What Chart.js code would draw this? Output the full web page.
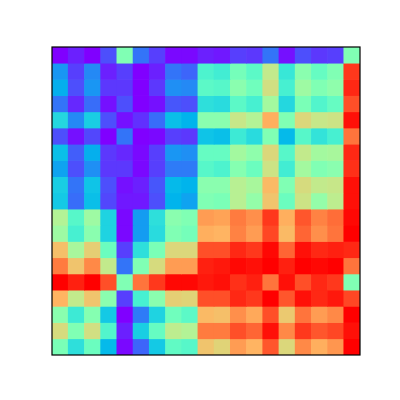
<!DOCTYPE html>
<html>
<head>
<meta charset="utf-8">
<script src="https://cdn.jsdelivr.net/npm/chart.js@4/dist/chart.umd.min.js"></script>
<style>
  html, body { margin: 0; padding: 0; background: #fff; }
  #wrap { width: 400px; height: 400px; }
</style>
</head>
<body>
<div id="wrap"><canvas id="heat" width="400" height="400"></canvas></div>
<script>
// columns and rows of the matrix (19 x 19)
var cols = ['0','1','2','3','4','5','6','7','8','9','10','11','12','13','14','15','16','17','18'];
var rowNames = cols.slice();

// cell values, 0..1, read row by row from top to bottom
var row00 = [0.00,0.04,0.00,0.10,0.50,0.15,0.08,0.01,0.01,0.04,0.03,0.08,0.07,0.15,0.02,0.10,0.07,0.08,0.50];
var row01 = [0.20,0.08,0.18,0.04,0.08,0.00,0.04,0.15,0.13,0.40,0.38,0.48,0.43,0.63,0.36,0.52,0.45,0.50,0.93];
var row02 = [0.24,0.10,0.20,0.07,0.07,0.00,0.07,0.19,0.18,0.43,0.42,0.52,0.47,0.66,0.39,0.56,0.50,0.53,0.95];
var row03 = [0.15,0.05,0.14,0.02,0.10,0.00,0.02,0.11,0.10,0.34,0.33,0.43,0.39,0.57,0.32,0.49,0.41,0.45,0.90];
var row04 = [0.32,0.18,0.30,0.10,0.02,0.06,0.14,0.27,0.25,0.52,0.52,0.64,0.60,0.76,0.50,0.68,0.64,0.65,0.98];
var row05 = [0.10,0.02,0.09,0.00,0.15,0.00,0.01,0.08,0.07,0.28,0.27,0.37,0.33,0.50,0.26,0.42,0.35,0.39,0.85];
var row06 = [0.27,0.12,0.24,0.07,0.05,0.01,0.08,0.20,0.19,0.45,0.45,0.57,0.53,0.68,0.42,0.63,0.57,0.58,0.95];
var row07 = [0.22,0.10,0.19,0.07,0.07,0.01,0.08,0.16,0.16,0.42,0.40,0.51,0.46,0.65,0.38,0.57,0.50,0.52,0.94];
var row08 = [0.30,0.15,0.28,0.10,0.02,0.04,0.11,0.26,0.25,0.52,0.52,0.61,0.58,0.74,0.50,0.67,0.63,0.64,0.98];
var row09 = [0.29,0.14,0.27,0.09,0.03,0.03,0.10,0.25,0.22,0.50,0.49,0.61,0.54,0.72,0.46,0.65,0.54,0.62,0.98];
var row10 = [0.60,0.42,0.56,0.31,0.01,0.21,0.34,0.52,0.50,0.79,0.78,0.84,0.81,0.93,0.76,0.89,0.83,0.86,0.99];
var row11 = [0.56,0.39,0.52,0.31,0.01,0.21,0.33,0.50,0.48,0.76,0.75,0.83,0.79,0.91,0.74,0.87,0.81,0.85,1.00];
var row12 = [0.73,0.58,0.70,0.46,0.08,0.34,0.49,0.68,0.68,0.90,0.90,0.95,0.93,0.99,0.87,0.98,0.95,0.96,0.95];
var row13 = [0.84,0.72,0.82,0.63,0.15,0.50,0.67,0.79,0.79,0.96,0.97,0.99,0.98,1.00,0.96,1.00,0.99,1.00,0.85];
var row14 = [1.00,0.96,1.00,0.90,0.50,0.85,0.93,0.99,0.99,0.97,0.98,0.94,0.96,0.85,0.98,0.90,0.95,0.93,0.50];
var row15 = [0.75,0.63,0.72,0.52,0.08,0.39,0.52,0.70,0.69,0.90,0.90,0.95,0.93,1.00,0.89,0.98,0.95,0.97,0.91];
var row16 = [0.52,0.37,0.51,0.29,0.00,0.16,0.31,0.47,0.43,0.74,0.73,0.81,0.77,0.90,0.71,0.85,0.79,0.82,1.00];
var row17 = [0.67,0.50,0.66,0.41,0.04,0.30,0.45,0.62,0.60,0.84,0.84,0.90,0.87,0.98,0.82,0.93,0.89,0.91,0.98];
var row18 = [0.49,0.34,0.46,0.26,0.01,0.13,0.29,0.44,0.42,0.72,0.69,0.79,0.75,0.89,0.68,0.82,0.76,0.80,1.00];

var rows = [row00,row01,row02,row03,row04,row05,row06,row07,row08,row09,
            row10,row11,row12,row13,row14,row15,row16,row17,row18];

// matplotlib "rainbow" colormap
function rainbow(v){
    v = Math.max(0, Math.min(1, v));
    var r = Math.min(1, Math.abs(2*v - 0.5));
    var g = Math.sin(Math.PI*v);
    var b = Math.cos(Math.PI*v/2);
    return 'rgb(' + Math.round(r*255) + ',' + Math.round(g*255) + ',' + Math.round(b*255) + ')';
}

var frame = {
    id: 'frame',
    afterDraw: function(chart){
        var a = chart.chartArea, c = chart.ctx;
        c.save();
        c.strokeStyle = '#000';
        c.lineWidth = 1.2;
        c.strokeRect(a.left, a.top, a.right - a.left, a.bottom - a.top);
        c.restore();
    }
};

var datasets = rows.map(function(row, i){
    return {
        label: rowNames[i],
        data: row.map(function(){ return [i, i + 1]; }),
        backgroundColor: row.map(rainbow),
        borderWidth: 0,
        grouped: false,
        barPercentage: 1,
        categoryPercentage: 1
    };
});

new Chart(document.getElementById('heat'), {
    type: 'bar',
    data: { labels: cols, datasets: datasets },
    options: {
        responsive: false,
        animation: false,
        layout: { padding: { left: 52, right: 40, top: 47, bottom: 45 } },
        plugins: { legend: { display: false }, tooltip: { enabled: false } },
        scales: {
            x: { display: false },
            y: { display: false, min: 0, max: rows.length, reverse: true }
        }
    },
    plugins: [frame]
});
</script>
</body>
</html>
